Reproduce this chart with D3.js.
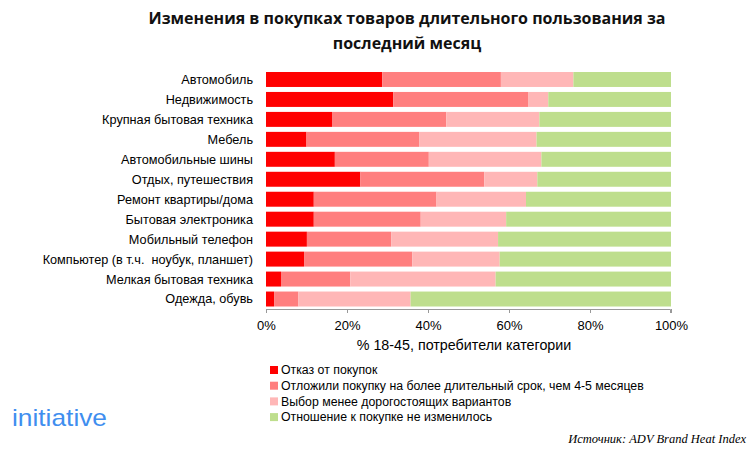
<!DOCTYPE html>
<html><head><meta charset="utf-8">
<script src="https://cdn.jsdelivr.net/npm/d3@7"></script>
<style>body{margin:0;background:#fff}svg{display:block}text{white-space:pre}</style>
</head><body><svg id="c" width="750" height="450"></svg>
<script>
const categories = ["Автомобиль","Недвижимость","Крупная бытовая техника","Мебель","Автомобильные шины","Отдых, путешествия","Ремонт квартиры/дома","Бытовая электроника","Мобильный телефон","Компьютер (в т.ч.  ноубук, планшет)","Мелкая бытовая техника","Одежда, обувь"];
const seriesNames = ["Отказ от покупок","Отложили покупку на более длительный срок, чем 4-5 месяцев","Выбор менее дорогостоящих вариантов","Отношение к покупке не изменилось"];
const refused   = [28.7,31.4,16.3,10.0,17.0,23.3,11.8,11.8,10.1,9.4,3.7,2.0];
const postponed = [29.3,33.3,28.2,27.8,23.2,30.6,30.3,26.4,20.8,26.7,17.1,6.0];
const cheaper   = [17.9,5.0,23.0,29.0,27.8,13.1,22.1,21.1,26.4,21.6,35.9,27.7];
const unchanged = [24.1,30.3,32.5,33.2,32.0,33.0,35.8,40.7,42.7,42.3,43.3,64.3];
const tickValues = [0,20,40,60,80,100];
const colors = ["#FF0000","#FF7F7F","#FFB7B7","#BEDE8D"];

const svg = d3.select("#c");
const seriesArr = [refused,postponed,cheaper,unchanged];
const rows = categories.map((c,i)=>{const o={cat:c}; seriesNames.forEach((s,j)=>o[s]=seriesArr[j][i]); return o;});
const stack = d3.stack().keys(seriesNames)(rows);

const x = d3.scaleLinear().domain([0,100]).range([266,671]);
const y = d3.scaleBand().domain(categories).range([69.5,309]).paddingInner(0.25).paddingOuter(0.125);

svg.append("g").selectAll("g").data(stack).join("g")
  .attr("fill",(d,i)=>colors[i])
  .selectAll("rect").data(d=>d).join("rect")
  .attr("x",d=>x(d[0])).attr("width",d=>x(d[1])-x(d[0]))
  .attr("y",d=>y(d.data.cat)).attr("height",y.bandwidth());

// y labels
svg.append("g").selectAll("text").data(categories).join("text")
  .attr("x",253).attr("y",d=>y(d)+y.bandwidth()/2).attr("dy","0.35em")
  .attr("text-anchor","end").attr("font-family","Liberation Sans, Arial, sans-serif")
  .attr("font-size",12.7).attr("fill","#000").text(d=>d);

// x axis
const ax = svg.append("g").attr("transform","translate(0,309)")
  .call(d3.axisBottom(x).tickValues(tickValues).tickSize(4).tickPadding(8).tickFormat(d=>d+"%"));
ax.select(".domain").attr("stroke","#999").attr("d","M266.5,4V0.5H670.5V4");
ax.selectAll(".tick line").attr("stroke","#999");
ax.selectAll("text").attr("font-family","Liberation Sans, Arial, sans-serif").attr("font-size",13).attr("fill","#000");

svg.append("text").attr("x",464).attr("y",350).attr("text-anchor","middle")
  .attr("font-family","Liberation Sans, Arial, sans-serif").attr("font-size",14.3).text("% 18-45, потребители категории");

// title
const title = svg.append("text").attr("text-anchor","middle").attr("font-family","Liberation Sans Narrow, Open Sans, sans-serif")
  .attr("font-weight","bold").attr("font-size",16).attr("fill","#111");
title.append("tspan").attr("x",407).attr("y",24).text("Изменения в покупках товаров длительного пользования за");
title.append("tspan").attr("x",407).attr("y",49).text("последний месяц");

// legend
const lg = svg.append("g").selectAll("g").data(seriesNames).join("g")
  .attr("transform",(d,i)=>`translate(270,${370+i*15.7})`);
lg.append("rect").attr("x",0).attr("y",-4).attr("width",8).attr("height",8).attr("fill",(d,i)=>colors[i]);
lg.append("text").attr("x",11).attr("y",0).attr("dy","0.35em")
  .attr("font-family","Liberation Sans Narrow, Liberation Sans, Arial, sans-serif").attr("font-size",12.3).text(d=>d);

// logo
svg.append("text").attr("x",12).attr("y",426).attr("font-family","Liberation Sans, Arial, sans-serif")
  .attr("font-size",24).attr("fill","#3F8EEF").attr("textLength",95).attr("lengthAdjust","spacingAndGlyphs").text("initiative");

// source
svg.append("text").attr("x",746).attr("y",443).attr("text-anchor","end")
  .attr("font-family","Liberation Serif, serif").attr("font-style","italic").attr("font-size",12.5).text("Источник: ADV Brand Heat Index");
</script></body></html>
